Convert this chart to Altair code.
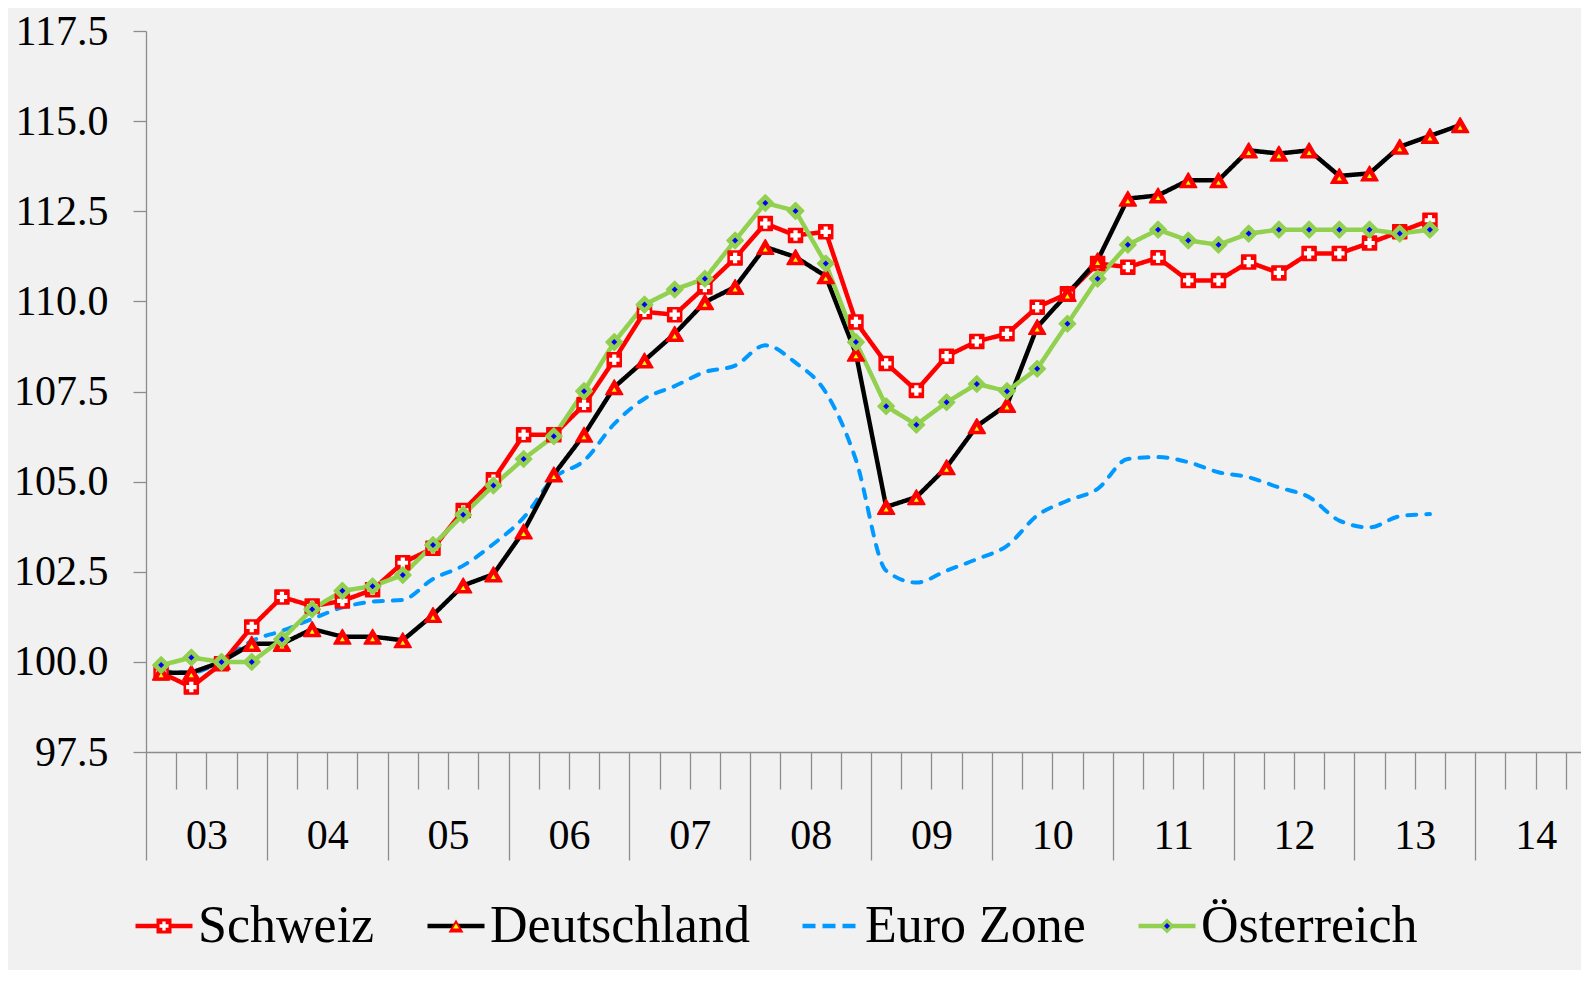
import json
import altair as alt
import pandas as pd

# ---------------- data (quarterly, 2003Q1 ...) ----------------
YEAR_LABELS = ["03", "04", "05", "06", "07", "08", "09", "10", "11", "12", "13", "14"]
SERIES = ["Schweiz", "Deutschland", "Euro Zone", "Österreich"]
Y_TICKS = [97.5, 100.0, 102.5, 105.0, 107.5, 110.0, 112.5, 115.0, 117.5]

SCHWEIZ = [99.7, 99.3, 99.95, 100.97, 101.8, 101.55, 101.69, 102.0, 102.75, 103.15,
           104.2, 105.05, 106.3, 106.3, 107.13, 108.38, 109.71, 109.63, 110.4, 111.2,
           112.16, 111.83, 111.93, 109.43, 108.28, 107.53, 108.48, 108.89, 109.1, 109.84,
           110.21, 111.05, 110.95, 111.21, 110.58, 110.58, 111.09, 110.79, 111.33, 111.33,
           111.62, 111.93, 112.25]
DEUTSCHLAND = [99.7, 99.7, 100.0, 100.5, 100.5, 100.91, 100.7, 100.7, 100.6, 101.3,
               102.12, 102.43, 103.62, 105.2, 106.3, 107.62, 108.36, 109.1, 109.98, 110.4,
               111.51, 111.23, 110.7, 108.55, 104.3, 104.57, 105.4, 106.54, 107.13, 109.29,
               110.21, 111.14, 112.85, 112.94, 113.36, 113.36, 114.19, 114.1, 114.19, 113.48,
               113.55, 114.29, 114.59, 114.89]
EURO_ZONE = [99.75, 99.7, 100.03, 100.58, 100.86, 101.19, 101.51, 101.67, 101.72, 102.3,
             102.67, 103.27, 104.0, 105.1, 105.58, 106.6, 107.3, 107.65, 108.04, 108.22,
             108.78, 108.3, 107.48, 105.6, 102.53, 102.2, 102.53, 102.85, 103.22, 104.06,
             104.47, 104.8, 105.63, 105.68, 105.54, 105.26, 105.12, 104.84, 104.57, 103.92,
             103.73, 104.04, 104.1]
OESTERREICH = [99.91, 100.12, 100.0, 100.0, 100.63, 101.46, 101.97, 102.1, 102.41, 103.24,
               104.08, 104.89, 105.63, 106.26, 107.51, 108.87, 109.91, 110.33, 110.63, 111.69,
               112.73, 112.51, 111.05, 108.87, 107.09, 106.58, 107.2, 107.71, 107.51, 108.13,
               109.38, 110.63, 111.57, 111.99, 111.69, 111.57, 111.88, 111.99, 111.99, 111.99,
               111.99, 111.88, 111.99]

rows = []
for name, vals in zip(SERIES, [SCHWEIZ, DEUTSCHLAND, EURO_ZONE, OESTERREICH]):
    for i, v in enumerate(vals):
        rows.append({"series": name, "q": i + 0.5, "value": v})
df = pd.DataFrame(rows)

# ---------------- styles ----------------
FONT = "Liberation Serif"
AX = "#8c8c8c"
RED, GREEN, BLUE_L = "#ff0000", "#92d050", "#0099ff"
LINE_COLORS = [RED, "#000000", BLUE_L, GREEN]
LEGEND_DASHES = [[1, 0], [1, 0], [13, 7], [1, 0]]
PLUS_PATH = "M-0.55,-1.5H0.55V-0.55H1.5V0.55H0.55V1.5H-0.55V0.55H-1.5V-0.55H-0.55Z"

label_expr = ("datum.value % 4 === 2 ? " + json.dumps(YEAR_LABELS) +
              "[floor(datum.value / 4)] : ''")

x_enc = alt.X(
    "q:Q",
    scale=alt.Scale(domain=[0, 47.5], nice=False, zero=False),
    axis=alt.Axis(
        values=list(range(0, 48)),
        tickSize={"condition": {"test": "datum.value % 4 === 0", "value": 108}, "value": 37},
        labelExpr=label_expr,
        labelPadding=46,
        labelBaseline="middle",
        labelAngle=0,
        labelFont=FONT,
        labelFontSize=42,
        labelColor="#000000",
        labelOverlap=False,
        labelFlush=False,
        grid=False,
        domainColor=AX,
        tickColor=AX,
        domainWidth=1.3,
        tickWidth=1.3,
        title=None,
    ),
)
y_enc = alt.Y(
    "value:Q",
    scale=alt.Scale(domain=[97.5, 117.5], nice=False, zero=False),
    axis=alt.Axis(
        values=Y_TICKS,
        format=".1f",
        tickSize=13,
        labelPadding=25,
        labelFont=FONT,
        labelFontSize=42,
        labelColor="#000000",
        grid=False,
        domainColor=AX,
        tickColor=AX,
        domainWidth=1.3,
        tickWidth=1.3,
        title=None,
    ),
)

# line legend: symbol column 62 px (symbol centre 31, label at 65)
# marker legends: symbol column 52 px (font size), shifted onto the line symbols
LX, LY = -13, 864
common_legend = dict(
    orient="none", legendX=LX, direction="horizontal", columns=4,
    labelFont=FONT, labelFontSize=52,
    labelColor="#000000", labelLimit=600, title=None, padding=0,
)
legend_lines = alt.Legend(symbolType="stroke", symbolSize=3249, symbolStrokeWidth=4.5,
                          labelOffset=3, columnPadding=43, legendY=LY, **common_legend)
legend_outer = alt.Legend(symbolSize=225, symbolStrokeWidth=1.5, symbolOffset=5,
                          labelOffset=13, labelOpacity=0, columnPadding=45,
                          legendY=LY + 5, **common_legend)
legend_inner = alt.Legend(symbolSize=36, symbolStrokeWidth=0, symbolOffset=5,
                          labelOffset=13, labelOpacity=0, columnPadding=45,
                          legendY=LY + 5, **common_legend)

base = alt.Chart(df)

euro = base.transform_filter(alt.datum.series == "Euro Zone").mark_line(
    color=BLUE_L, strokeWidth=4, strokeDash=[9, 10], strokeCap="round",
    interpolate="monotone",
).encode(x=x_enc, y=y_enc)

lines = base.transform_filter(alt.datum.series != "Euro Zone").mark_line(
    strokeWidth=4.5, strokeJoin="round",
).encode(
    x=x_enc,
    y=y_enc,
    color=alt.Color("series:N", scale=alt.Scale(domain=SERIES, range=LINE_COLORS),
                    legend=legend_lines),
    strokeDash=alt.StrokeDash("series:N", scale=alt.Scale(domain=SERIES, range=LEGEND_DASHES),
                              legend=legend_lines),
)

# chart markers: outer shape + inner detail for each series
MARKER_STYLES = [
    ("Schweiz", "square", 196, RED, 1.5, 0),
    ("Schweiz", "cross", 110, "#ffffff", 0, 0),
    ("Deutschland", "triangle-up", 289, RED, 1.5, 0),
    ("Deutschland", "triangle-up", 25, "#ffff00", 0, 2.45),
    ("Österreich", "diamond", 272, GREEN, 1.5, 0),
    ("Österreich", "diamond", 36, "#0000ff", 0, 0),
]
marker_layers = []
for name, shape, size, col, sw, yoff in MARKER_STYLES:
    marker_layers.append(
        base.transform_filter(alt.datum.series == name).mark_point(
            shape=shape, size=size, filled=True, fill=col, stroke=col,
            strokeWidth=sw, strokeJoin="round", opacity=1, yOffset=yoff,
        ).encode(x=x_enc, y=y_enc)
    )

# legend-only layers (no rows) that supply the marker symbols of the legend
legend_outer_layer = base.transform_filter("false").mark_point(
    filled=True, stroke="transparent", strokeWidth=1.5, opacity=1,
).encode(
    x=x_enc, y=y_enc,
    shape=alt.Shape("series:N", scale=alt.Scale(
        domain=SERIES, range=["square", "triangle-up", "circle", "diamond"]), legend=legend_outer),
    fill=alt.Fill("series:N", scale=alt.Scale(
        domain=SERIES, range=[RED, RED, "transparent", GREEN]), legend=legend_outer),
)
legend_inner_layer = base.transform_filter("false").mark_point(
    filled=True, stroke="transparent", strokeWidth=0, opacity=1,
).encode(
    x=x_enc, y=y_enc,
    shape=alt.Shape("series:N", scale=alt.Scale(
        domain=SERIES, range=[PLUS_PATH, "triangle-up", "circle", "diamond"]), legend=legend_inner),
    fill=alt.Fill("series:N", scale=alt.Scale(
        domain=SERIES, range=["#ffffff", "#ffff00", "transparent", "#0000ff"]), legend=legend_inner),
)

chart = alt.layer(
    euro, lines, *marker_layers, legend_outer_layer, legend_inner_layer
).resolve_scale(
    shape="independent", fill="independent",
).resolve_legend(
    color="independent", strokeDash="independent",
).properties(
    width=1435,
    height=721,
    padding={"left": 138, "top": 23, "right": 0, "bottom": 218},
    autosize=alt.AutoSizeParams(type="none"),
    background="#f1f1f1",
).configure_view(stroke=None)

chart.save("out.html", embed_options={"renderer": "svg", "actions": False})
